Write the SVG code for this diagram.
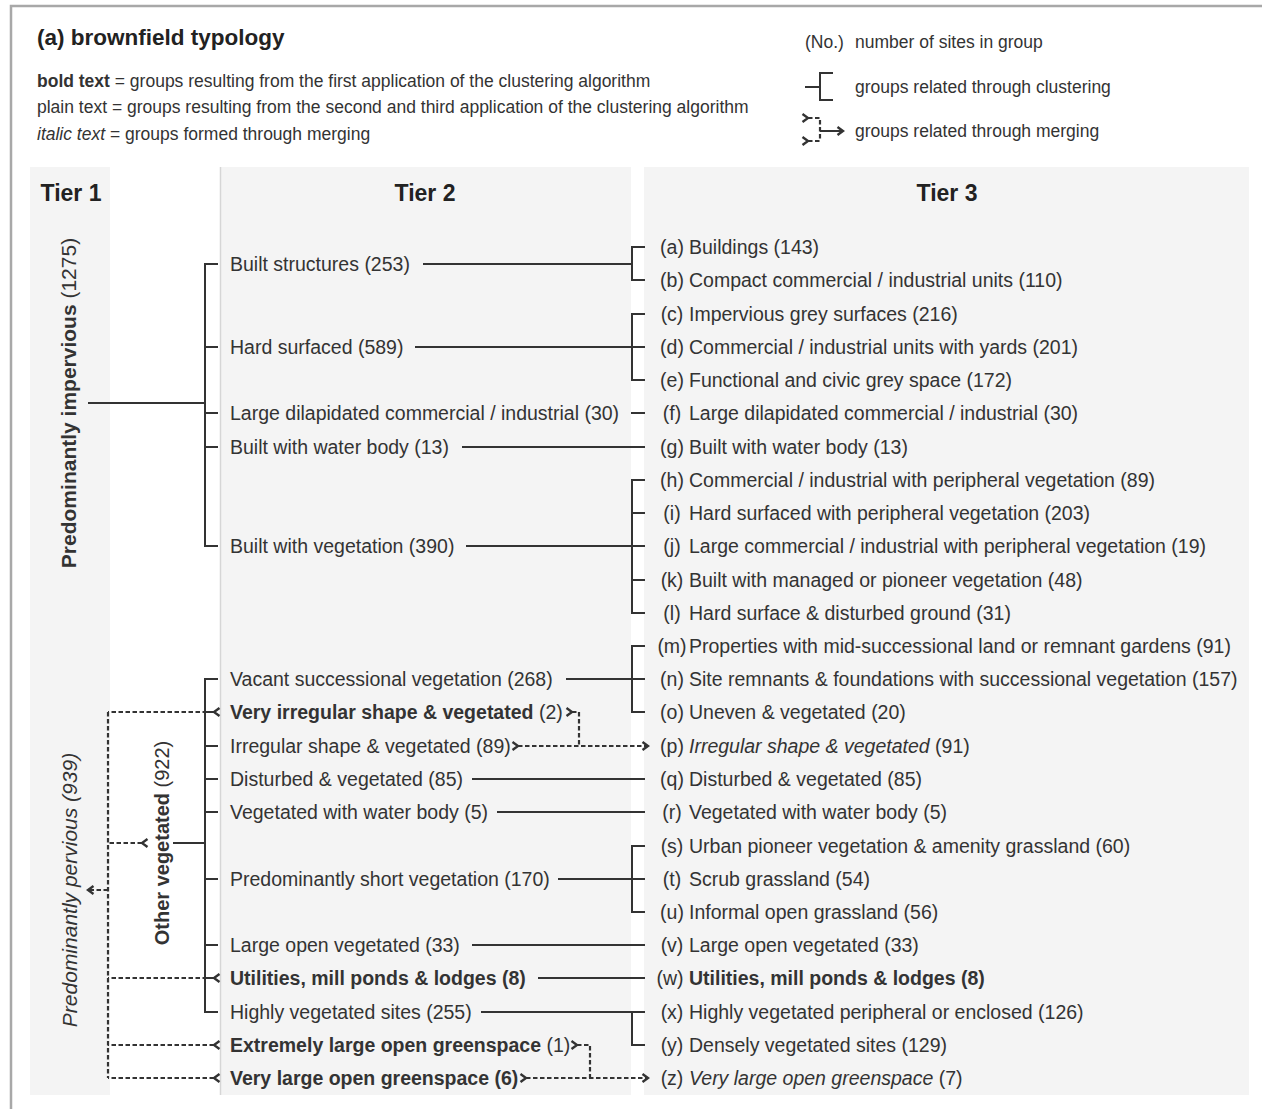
<svg xmlns="http://www.w3.org/2000/svg" width="1262" height="1109" viewBox="0 0 1262 1109">
<style>
text{font-family:"Liberation Sans",Arial,Helvetica,sans-serif;fill:#333}
.t{font-size:19.5px}
.b{font-weight:bold}
.i{font-style:italic}
.n{font-weight:normal}
.lg{font-size:17.5px}
.hd{font-size:23px;font-weight:bold;text-anchor:middle;fill:#222}
.lab{text-anchor:middle}
.col{fill:#f4f4f4}
.ln{stroke:#333;stroke-width:2;fill:none}
.ds{stroke:#333;stroke-width:2.2;fill:none;stroke-dasharray:4.5 2.5}
.tl{marker-start:url(#chev)}
.ah{marker-end:url(#chev)}
</style>
<defs>
<marker id="chev" markerUnits="userSpaceOnUse" viewBox="-8 -6 10 12" refX="0" refY="0" markerWidth="10" markerHeight="12" orient="auto">
<path d="M-5.5,-4 L0,0 L-5.5,4" fill="none" stroke="#333" stroke-width="2.4" stroke-dasharray="none"/>
</marker>
</defs>
<rect x="0" y="0" width="1262" height="1109" fill="#fff"/>
<path d="M11,1109 L11,6 L1262,6" fill="none" stroke="#a8a8a8" stroke-width="2.5"/>

<g id="columns">
<rect class="col" x="30" y="167" width="80" height="928"/>
<rect class="col" x="220" y="167" width="411" height="928"/>
<rect class="col" x="644" y="167" width="605" height="928"/>
<line x1="220.5" y1="167" x2="220.5" y2="1095" stroke="#d6d6d6" stroke-width="1.5"/>
</g>

<g id="title"><text x="37" y="45" class="b" style="font-size:22.5px;fill:#222">(a) brownfield typology</text></g>

<g id="legend">
<text class="lg" x="37" y="87"><tspan class="b">bold text</tspan> = groups resulting from the first application of the clustering algorithm</text>
<text class="lg" x="37" y="113">plain text = groups resulting from the second and third application of the clustering algorithm</text>
<text class="lg" x="37" y="140"><tspan class="i">italic text</tspan> = groups formed through merging</text>
<text class="lg" x="805" y="48">(No.)</text>
<text class="lg" x="855" y="48">number of sites in group</text>
<path class="ln" d="M805,87 L820,87 M833,73 L820,73 L820,100 L833,100"/>
<text class="lg" x="855" y="93">groups related through clustering</text>
<path class="ds tl" d="M808,118 L820,118 L820,140"/>
<path class="ds tl" d="M808,141 L820,141"/>
<path class="ln ah" d="M820,131 L843,131"/>
<text class="lg" x="855" y="137">groups related through merging</text>
</g>

<g id="headers">
<text class="hd" x="71" y="201">Tier 1</text>
<text class="hd" x="425" y="201">Tier 2</text>
<text class="hd" x="947" y="201">Tier 3</text>
</g>

<g id="tier1-impervious"><text class="t b" style="font-size:21px" text-anchor="middle" transform="translate(76,403) rotate(-90)">Predominantly impervious <tspan class="n">(1275)</tspan></text></g>
<g id="tier1-pervious"><text class="t i" style="font-size:21px" text-anchor="middle" transform="translate(77,890) rotate(-90)">Predominantly pervious (939)</text></g>
<g id="other-vegetated"><text class="t b" style="font-size:20px" text-anchor="middle" transform="translate(169,843) rotate(-90)">Other vegetated <tspan class="n">(922)</tspan></text></g>

<g id="tier2">
<g id="t2-built-structures"><text class="t" x="230" y="271">Built structures (253)</text></g>
<g id="t2-hard-surfaced"><text class="t" x="230" y="354">Hard surfaced (589)</text></g>
<g id="t2-large-dilapidated"><text class="t" x="230" y="420">Large dilapidated commercial / industrial (30)</text></g>
<g id="t2-built-water"><text class="t" x="230" y="454">Built with water body (13)</text></g>
<g id="t2-built-vegetation"><text class="t" x="230" y="553">Built with vegetation (390)</text></g>
<g id="t2-vacant"><text class="t" x="230" y="686">Vacant successional vegetation (268)</text></g>
<g id="t2-very-irregular"><text class="t b" x="230" y="719">Very irregular shape &amp; vegetated <tspan class="n">(2)</tspan></text></g>
<g id="t2-irregular"><text class="t" x="230" y="753">Irregular shape &amp; vegetated (89)</text></g>
<g id="t2-disturbed"><text class="t" x="230" y="786">Disturbed &amp; vegetated (85)</text></g>
<g id="t2-veg-water"><text class="t" x="230" y="819">Vegetated with water body (5)</text></g>
<g id="t2-short"><text class="t" x="230" y="886">Predominantly short vegetation (170)</text></g>
<g id="t2-large-open"><text class="t" x="230" y="952">Large open vegetated (33)</text></g>
<g id="t2-utilities"><text class="t b" x="230" y="985">Utilities, mill ponds &amp; lodges (8)</text></g>
<g id="t2-highly"><text class="t" x="230" y="1019">Highly vegetated sites (255)</text></g>
<g id="t2-extremely-large"><text class="t b" x="230" y="1052">Extremely large open greenspace <tspan class="n">(1)</tspan></text></g>
<g id="t2-very-large"><text class="t b" x="230" y="1085">Very large open greenspace (6)</text></g>
</g>

<g id="tier3">
<g id="t3-a"><text class="t lab" x="672" y="254">(a)</text><text class="t" x="689" y="254">Buildings (143)</text></g>
<g id="t3-b"><text class="t lab" x="672" y="287">(b)</text><text class="t" x="689" y="287">Compact commercial / industrial units (110)</text></g>
<g id="t3-c"><text class="t lab" x="672" y="321">(c)</text><text class="t" x="689" y="321">Impervious grey surfaces (216)</text></g>
<g id="t3-d"><text class="t lab" x="672" y="354">(d)</text><text class="t" x="689" y="354">Commercial / industrial units with yards (201)</text></g>
<g id="t3-e"><text class="t lab" x="672" y="387">(e)</text><text class="t" x="689" y="387">Functional and civic grey space (172)</text></g>
<g id="t3-f"><text class="t lab" x="672" y="420">(f)</text><text class="t" x="689" y="420">Large dilapidated commercial / industrial (30)</text></g>
<g id="t3-g"><text class="t lab" x="672" y="454">(g)</text><text class="t" x="689" y="454">Built with water body (13)</text></g>
<g id="t3-h"><text class="t lab" x="672" y="487">(h)</text><text class="t" x="689" y="487">Commercial / industrial with peripheral vegetation (89)</text></g>
<g id="t3-i"><text class="t lab" x="672" y="520">(i)</text><text class="t" x="689" y="520">Hard surfaced with peripheral vegetation (203)</text></g>
<g id="t3-j"><text class="t lab" x="672" y="553">(j)</text><text class="t" x="689" y="553">Large commercial / industrial with peripheral vegetation (19)</text></g>
<g id="t3-k"><text class="t lab" x="672" y="587">(k)</text><text class="t" x="689" y="587">Built with managed or pioneer vegetation (48)</text></g>
<g id="t3-l"><text class="t lab" x="672" y="620">(l)</text><text class="t" x="689" y="620">Hard surface &amp; disturbed ground (31)</text></g>
<g id="t3-m"><text class="t lab" x="672" y="653">(m)</text><text class="t" x="689" y="653">Properties with mid-successional land or remnant gardens (91)</text></g>
<g id="t3-n"><text class="t lab" x="672" y="686">(n)</text><text class="t" x="689" y="686">Site remnants &amp; foundations with successional vegetation (157)</text></g>
<g id="t3-o"><text class="t lab" x="672" y="719">(o)</text><text class="t" x="689" y="719">Uneven &amp; vegetated (20)</text></g>
<g id="t3-p"><text class="t lab" x="672" y="753">(p)</text><text class="t" x="689" y="753"><tspan class="i">Irregular shape &amp; vegetated</tspan> (91)</text></g>
<g id="t3-q"><text class="t lab" x="672" y="786">(q)</text><text class="t" x="689" y="786">Disturbed &amp; vegetated (85)</text></g>
<g id="t3-r"><text class="t lab" x="672" y="819">(r)</text><text class="t" x="689" y="819">Vegetated with water body (5)</text></g>
<g id="t3-s"><text class="t lab" x="672" y="853">(s)</text><text class="t" x="689" y="853">Urban pioneer vegetation &amp; amenity grassland (60)</text></g>
<g id="t3-t"><text class="t lab" x="672" y="886">(t)</text><text class="t" x="689" y="886">Scrub grassland (54)</text></g>
<g id="t3-u"><text class="t lab" x="672" y="919">(u)</text><text class="t" x="689" y="919">Informal open grassland (56)</text></g>
<g id="t3-v"><text class="t lab" x="672" y="952">(v)</text><text class="t" x="689" y="952">Large open vegetated (33)</text></g>
<g id="t3-w"><text class="t lab" x="670" y="985">(w)</text><text class="t b" x="689" y="985">Utilities, mill ponds &amp; lodges (8)</text></g>
<g id="t3-x"><text class="t lab" x="672" y="1019">(x)</text><text class="t" x="689" y="1019">Highly vegetated peripheral or enclosed (126)</text></g>
<g id="t3-y"><text class="t lab" x="672" y="1052">(y)</text><text class="t" x="689" y="1052">Densely vegetated sites (129)</text></g>
<g id="t3-z"><text class="t lab" x="672" y="1085">(z)</text><text class="t" x="689" y="1085"><tspan class="i">Very large open greenspace</tspan> (7)</text></g>
</g>

<g id="connectors">
<path class="ln" d="M88,403 L205,403 M218,264 L205,264 L205,546 L218,546 M205,347 L218,347 M205,413 L218,413 M205,447 L218,447"/>
<path class="ln" d="M173,843 L205,843 M218,679 L205,679 L205,1012 L218,1012 M205,712 L214,712 M205,746 L218,746 M205,779 L218,779 M205,812 L218,812 M205,879 L218,879 M205,945 L218,945 M205,978 L214,978"/>
<path class="ln" d="M423,264 L632,264 M645,247 L632,247 L632,280 L645,280"/>
<path class="ln" d="M415,347 L645,347 M645,314 L632,314 L632,380 L645,380"/>
<path class="ln" d="M631,413 L645,413"/>
<path class="ln" d="M462,447 L645,447"/>
<path class="ln" d="M466,546 L645,546 M645,480 L632,480 L632,613 L645,613 M632,513 L645,513 M632,580 L645,580"/>
<path class="ln" d="M566,679 L645,679 M645,646 L632,646 L632,712 L645,712"/>
<path class="ln" d="M472,779 L645,779"/>
<path class="ln" d="M497,812 L645,812"/>
<path class="ln" d="M558,879 L645,879 M645,846 L632,846 L632,912 L645,912"/>
<path class="ln" d="M472,945 L645,945"/>
<path class="ln" d="M538,978 L645,978"/>
<path class="ln" d="M481,1012 L645,1012 M632,1012 L632,1045 L645,1045"/>
<path class="ds tl" d="M572,712 L579,712 L579,746"/>
<path class="ds tl ah" d="M518,746 L648,746"/>
<path class="ds tl" d="M577,1045 L590,1045 L590,1078"/>
<path class="ds tl ah" d="M526,1078 L648,1078"/>
<path class="ds tl" d="M214,712 L108,712"/>
<path class="ds tl" d="M214,978 L108,978"/>
<path class="ds tl" d="M214,1045 L108,1045"/>
<path class="ds tl" d="M214,1078 L108,1078"/>
<path class="ds tl" d="M142,843 L108,843"/>
<path class="ds" d="M108,712 L108,1078"/>
<path class="ds ah" d="M108,890 L88,890"/>
</g>
</svg>
